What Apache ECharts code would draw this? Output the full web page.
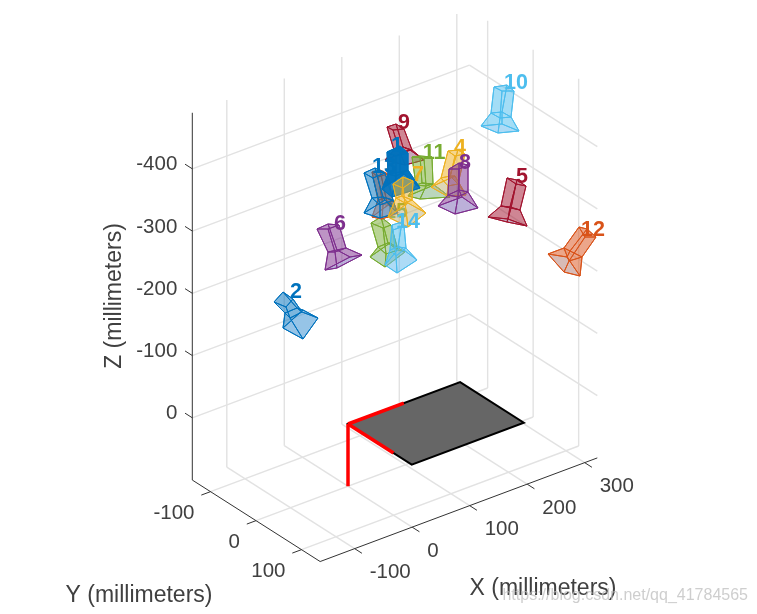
<!DOCTYPE html>
<html>
<head>
<meta charset="utf-8">
<style>html,body{margin:0;padding:0;background:#fff}#c{width:757px;height:614px;filter:blur(0.45px)}</style>
<script src="https://cdn.jsdelivr.net/npm/echarts@6/dist/echarts.min.js"></script>
</head>
<body>
<div id="c"></div>
<script>
// Axis ticks and limits (millimetres)
const xTicks = [-100, 0, 100, 200, 300];
const yTicks = [-100, 0, 100];
const zTicks = [-400, -300, -200, -100, 0];
const xLimits = [-160, 322];
const yLimits = [-140, 141];
const zLimits = [-490, 100];
// Checkerboard and world axes (millimetres)
const boardSize = [195, 140];
const worldAxisLength = [97, 100, 100];
// Camera outlines: back, body-end and lens-end quads, in view-plane units
const cameraIds = ['10', '12', '5', '2', '6', '9', '11', '4', '8', '15', '3', '13', '1', '7', '14'];
const cameraNames = ['lightblue', 'orange', 'crimson', 'blue', 'purple', 'crimson', 'green', 'yellow', 'purple', 'green', 'orange', 'blue', 'blue', 'yellow', 'lightblue'];
const cameraShapes = [
  [[494,87],[507,85],[514,91],[502,91], [491,113],[502,112],[511,117],[500,118], [481,126],[502,124],[519,131],[498,133]],
  [[579,227],[587,229],[596,237],[585,237], [564,248],[570,251],[582,257],[569,261], [548,254],[567,257],[580,276],[564,272]],
  [[507,178],[517,180],[526,186],[516,184], [501,206],[510,207],[520,210],[511,208], [488,217],[508,219],[527,226],[507,222]],
  [[274,302],[283,292],[293,299],[286,307], [285,313],[297,308],[302,312],[290,318], [283,328],[303,310],[318,318],[303,339]],
  [[317,229],[328,224],[339,225],[328,229], [328,252],[337,250],[346,248],[335,252], [325,270],[350,257],[362,255],[337,268]],
  [[387,127],[396,124],[404,129],[393,130], [394,150],[403,147],[412,150],[400,152], [385,160],[410,150],[424,160],[405,165]],
  [[412,157],[420,156],[432,157],[424,158], [416,185],[422,183],[433,184],[426,186], [408,196],[434,185],[450,197],[420,199]],
  [[448,151],[458,150],[465,154],[455,156], [441,178],[450,176],[458,184],[448,186], [431,187],[455,176],[466,195],[447,196]],
  [[449,169],[459,163],[468,165],[459,169], [448,195],[459,190],[468,192],[458,197], [438,206],[462,197],[478,208],[455,214]],
  [[371,223],[381,217],[391,225],[383,228], [378,247],[388,243],[398,250],[386,254], [370,257],[390,243],[405,252],[385,267]],
  [[372,172],[380,170],[388,174],[378,177], [378,200],[386,198],[393,201],[383,205], [372,217],[388,205],[398,213],[382,219]],
  [[364,173],[375,168],[385,173],[373,178], [372,198],[383,197],[393,200],[380,205], [364,213],[385,200],[397,213],[380,218]],
  [[387,152],[400,146],[408,153],[396,156], [388,174],[400,172],[408,170],[396,176], [382,189],[404,174],[420,188],[392,197]],
  [[393,184],[403,177],[413,181],[403,188], [396,198],[402,196],[412,200],[405,203], [388,217],[408,203],[426,213],[408,227]],
  [[392,225],[402,222],[404,226],[393,230], [390,250],[398,247],[406,248],[396,256], [385,265],[400,247],[417,260],[397,273]]
];
const cameraLabelAt = [[516,83],[593,230],[522,177],[296,292],[340,224],[404,123],[434,153],[460,148],[465,163],[396,212],[391,167],[384,167],[397,146],[418,175],[408,222]];
const palette = {lightblue:'#4DBEEE', orange:'#D95319', crimson:'#A2142F', blue:'#0072BD', purple:'#7E2F8E', green:'#77AC30', yellow:'#EDB120'};

// Orthographic view of the MATLAB axes: millimetres to view-plane units
function project(p) {
  return [348 + 0.575 * p[0] + 0.455 * p[1], 424 - 0.215 * p[0] + 0.29 * p[1] + 0.6225 * p[2]];
}
function rgba(hex, a) {
  const n = parseInt(hex.slice(1), 16);
  return 'rgba(' + (n >> 16) + ',' + ((n >> 8) & 255) + ',' + (n & 255) + ',' + a + ')';
}
const [x0, x1] = xLimits, [y0, y1] = yLimits, [z0, z1] = zLimits;
const gridSegments = [];
xTicks.forEach(x => {
  gridSegments.push([[x, y0, z1], [x, y1, z1]]);
  gridSegments.push([[x, y0, z0], [x, y0, z1]]);
});
yTicks.forEach(y => {
  gridSegments.push([[x0, y, z1], [x1, y, z1]]);
  gridSegments.push([[x1, y, z0], [x1, y, z1]]);
});
zTicks.forEach(z => {
  gridSegments.push([[x0, y0, z], [x1, y0, z]]);
  gridSegments.push([[x1, y0, z], [x1, y1, z]]);
});
const axisSegments = [
  [[x0, y0, z0], [x0, y0, z1]],
  [[x0, y0, z1], [x0, y1, z1]],
  [[x0, y1, z1], [x1, y1, z1]]
];
xTicks.forEach(x => axisSegments.push([[x, y1, z1], [x, y1 + 16, z1]]));
yTicks.forEach(y => axisSegments.push([[x0, y, z1], [x0 - 16, y, z1]]));
zTicks.forEach(z => axisSegments.push([[x0, y0, z], [x0, y0 - 16, z]]));
const redSegments = [
  [[0, 0, 0], [0, 0, worldAxisLength[2]]],
  [[0, 0, 0], [worldAxisLength[0], 0, 0]],
  [[0, 0, 0], [0, worldAxisLength[1], 0]]
];
const boardCorners = [[0,0,0],[boardSize[0],0,0],[boardSize[0],boardSize[1],0],[0,boardSize[1],0]];

const tickFont = '20.5px "Liberation Sans", Arial, sans-serif';
const titleFont = '23px "Liberation Sans", Arial, sans-serif';
const textItems = [];
xTicks.forEach(x => { const p = project([x, y1, z1]); textItems.push({t:String(x), at:[p[0]+15, p[1]+24], align:'left', font:tickFont}); });
yTicks.forEach(y => { const p = project([x0, y, z1]); textItems.push({t:String(y), at:[p[0]-16, p[1]+22], align:'right', font:tickFont}); });
zTicks.forEach(z => { const p = project([x0, y0, z]); textItems.push({t:String(z), at:[p[0]-15, p[1]-4], align:'right', font:tickFont}); });
textItems.push({t:'X (millimeters)', at:[543,589], align:'center', font:titleFont});
textItems.push({t:'Y (millimeters)', at:[139,596], align:'center', font:titleFont});
textItems.push({t:'Z (millimeters)', at:[115,296], align:'center', font:titleFont, rot:Math.PI/2});
textItems.push({t:'https://blog.csdn.net/qq_41784565', at:[748,596], align:'right', font:'16px "Liberation Sans", Arial, sans-serif', fill:'rgba(190,190,190,0.75)'});

function indices(a) { return a.map((_, i) => i); }
function segSeries(list, stroke, width, z) {
  return {
    type:'custom', coordinateSystem:'cartesian2d', clip:false, silent:true, z:z,
    data:indices(list),
    renderItem:(params, api) => {
      const s = list[params.dataIndex];
      const a = api.coord(project(s[0])), b = api.coord(project(s[1]));
      return {type:'line', shape:{x1:a[0],y1:a[1],x2:b[0],y2:b[1]}, style:{stroke:stroke, lineWidth:width, lineCap:'butt'}};
    }
  };
}
const faceOrder = [[8,9,10,11],[4,5,9,8],[5,6,10,9],[6,7,11,10],[7,4,8,11],[0,1,5,4],[1,2,6,5],[2,3,7,6],[3,0,4,7],[0,1,2,3]];

const option = {
  animation:false,
  backgroundColor:'#fff',
  grid:{left:0,right:0,top:0,bottom:0},
  xAxis:{type:'value',min:0,max:757,show:false},
  yAxis:{type:'value',min:0,max:614,inverse:true,show:false},
  series:[
    segSeries(gridSegments,'#e2e2e2',1.4,1),
    {
      type:'custom', coordinateSystem:'cartesian2d', clip:false, silent:true, z:2,
      data:[0],
      renderItem:(params, api) => ({
        type:'polygon',
        shape:{points:boardCorners.map(c => api.coord(project(c)))},
        style:{fill:'#666666', stroke:'#000', lineWidth:2}
      })
    },
    segSeries(redSegments,'#ff0000',3.5,3),
    segSeries(axisSegments,'#333333',1,4),
    {
      type:'custom', coordinateSystem:'cartesian2d', clip:false, silent:true, z:5,
      data:indices(cameraShapes),
      renderItem:(params, api) => {
        const i = params.dataIndex;
        const color = palette[cameraNames[i]];
        const pts = cameraShapes[i].map(p => api.coord(p));
        const alpha = cameraIds[i] === '1' ? 0.85 : 0.3;
        const children = faceOrder.map((f, k) => ({
          type:'polygon',
          shape:{points:f.map(j => pts[j])},
          style:{
            fill:k === 0 ? 'rgba(140,190,240,0.35)' : rgba(color, alpha),
            stroke:color, lineWidth:1
          }
        }));
        const l = api.coord(cameraLabelAt[i]);
        children.push({
          type:'text',
          style:{x:l[0], y:l[1], text:cameraIds[i], fill:color, align:'center', verticalAlign:'middle',
                 font:'bold 21.5px "Liberation Sans", Arial, sans-serif'}
        });
        return {type:'group', children:children};
      }
    },
    {
      type:'custom', coordinateSystem:'cartesian2d', clip:false, silent:true, z:6,
      data:indices(textItems),
      renderItem:(params, api) => {
        const t = textItems[params.dataIndex];
        const p = api.coord(t.at);
        return {
          type:'text', x:p[0], y:p[1], rotation:t.rot || 0,
          style:{x:0, y:0, text:t.t, font:t.font, fill:t.fill || '#404040', align:t.align, verticalAlign:'middle'}
        };
      }
    }
  ]
};
const chart = echarts.init(document.getElementById('c'), null, {renderer:'canvas'});
chart.setOption(option);
</script>
</body>
</html>
